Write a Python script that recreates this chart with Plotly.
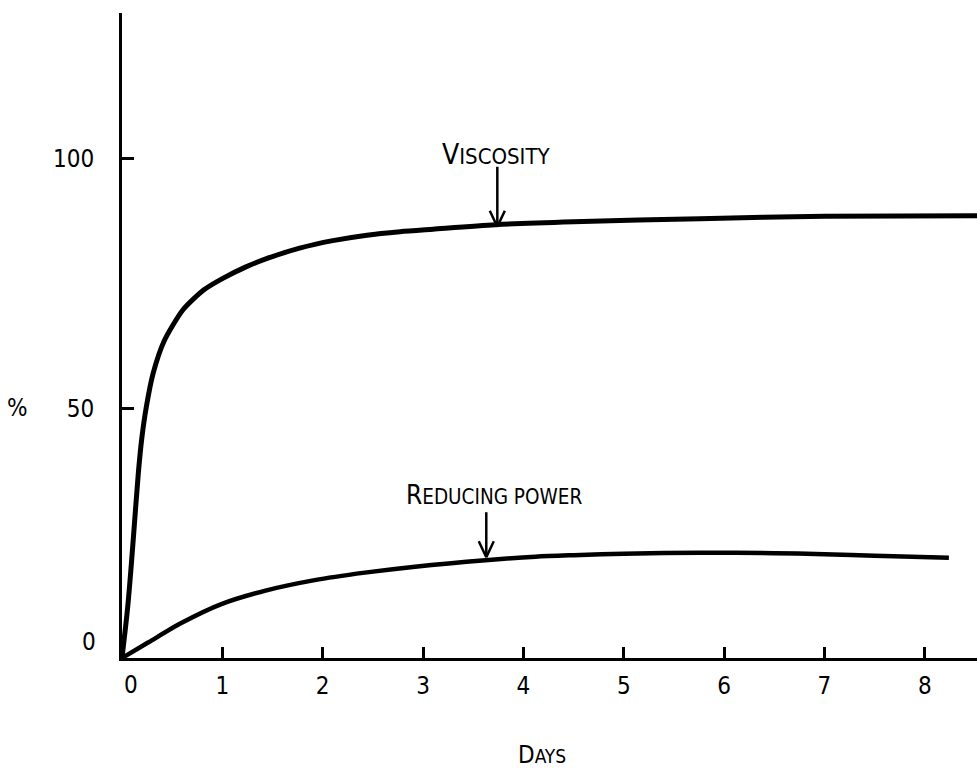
import plotly.graph_objects as go

# ---- data ----
visc_days = [0.0, 0.04, 0.063, 0.09, 0.113, 0.163, 0.196, 0.24, 0.31, 0.42, 0.61,
             0.82, 1.0, 1.23, 1.44, 1.77, 2.1, 2.44, 2.77, 3.1, 3.72, 4.5, 5.76, 7.0, 8.52]
visc_pct = [0.0, 7.0, 11.5, 18.0, 24.0, 37.1, 43.8, 50.0, 57.0, 63.5, 69.8,
            73.8, 76.0, 78.3, 80.0, 82.1, 83.6, 84.7, 85.4, 85.9, 86.8, 87.4, 88.0, 88.5, 88.6]

red_days = [0.0, 0.26, 0.6, 0.99, 1.43, 1.92, 2.42, 2.92, 3.62, 4.12, 4.5, 5.0,
            5.76, 6.5, 7.0, 7.5, 8.24]
red_pct = [0.0, 3.1, 7.1, 10.8, 13.5, 15.6, 17.1, 18.3, 19.6, 20.3, 20.6, 20.9,
           21.1, 21.0, 20.8, 20.5, 20.1]

x_ticks = [1, 2, 3, 4, 5, 6, 7, 8]
x_zero_label = "0"
y_ticks = [50, 100]
y_zero_label = "0"

FONT = "Liberation Sans Narrow, DejaVu Sans Condensed, DejaVu Sans"
TICK_SIZE = 24

W, H = 977, 768
L_, R_, T_, B_ = 122, 0, 13, 110
pw, ph = W - L_ - R_, H - T_ - B_


def px_to_paper(px, py):
    return (px - L_) / pw, (H - B_ - py) / ph


def small_caps(first, rest, big, small):
    return (f"<span style='font-size:{big}px'>{first}</span>"
            f"<span style='font-size:{small}px'>{rest}</span>")


fig = go.Figure()
fig.add_trace(go.Scatter(x=visc_days, y=visc_pct, mode="lines",
                         line=dict(color="black", width=5, shape="spline", smoothing=0.7),
                         hoverinfo="skip", showlegend=False))
fig.add_trace(go.Scatter(x=red_days, y=red_pct, mode="lines",
                         line=dict(color="black", width=4.5, shape="spline", smoothing=0.8),
                         hoverinfo="skip", showlegend=False))

ann = []
shapes = []
labels = [
    dict(text=small_caps("V", "ISCOSITY", 28, 22), tx=3.73, ty=100.8, ax=3.74, top=98.4, tip=86.4),
    dict(text=small_caps("R", "EDUCING POWER", 26, 20.5), tx=3.71, ty=32.6, ax=3.63, top=29.2, tip=20.2),
]
for Lb in labels:
    ann.append(dict(x=Lb["tx"], y=Lb["ty"], xref="x", yref="y", text=Lb["text"],
                    showarrow=False, xanchor="center", yanchor="middle",
                    font=dict(family=FONT, size=20, color="black")))
    shapes.append(dict(type="line", xref="x", yref="y", x0=Lb["ax"], x1=Lb["ax"],
                       y0=Lb["top"], y1=Lb["tip"], line=dict(color="black", width=2.5)))
    for s in (-1, 1):
        shapes.append(dict(type="line", xref="x", yref="y", x0=Lb["ax"], y0=Lb["tip"],
                           x1=Lb["ax"] + s * 0.075, y1=Lb["tip"] + 3.2,
                           line=dict(color="black", width=2.5)))

# y "0" label (sits a little above the axis in the reference)
ann.append(dict(x=0, y=3.2, xref="paper", yref="y", text=y_zero_label, showarrow=False,
                xanchor="right", yanchor="middle", xshift=-24,
                font=dict(family=FONT, size=TICK_SIZE, color="black")))
# x "0" label (a little right of the axis corner)
ann.append(dict(x=0.09, y=0, xref="x", yref="paper", text=x_zero_label, showarrow=False,
                xanchor="center", yanchor="top", yshift=-11,
                font=dict(family=FONT, size=TICK_SIZE, color="black")))
# axis titles
pxp, pyp = px_to_paper(17, 408)
ann.append(dict(x=pxp, y=pyp, xref="paper", yref="paper", text="%", showarrow=False,
                xanchor="center", yanchor="middle",
                font=dict(family=FONT, size=24, color="black")))
dxp, dyp = px_to_paper(542, 755)
ann.append(dict(x=dxp, y=dyp, xref="paper", yref="paper",
                text=small_caps("D", "AYS", 24, 19), showarrow=False,
                xanchor="center", yanchor="middle",
                font=dict(family=FONT, size=19, color="black")))

fig.update_layout(
    width=W, height=H,
    margin=dict(l=L_, r=R_, t=T_, b=B_, pad=0),
    paper_bgcolor="white", plot_bgcolor="white",
    annotations=ann, shapes=shapes,
    xaxis=dict(range=[0, 8.52], showgrid=False, zeroline=False, showline=True,
               linecolor="black", linewidth=3, ticks="inside", ticklen=11, tickwidth=3,
               tickcolor="black", tickvals=x_ticks, ticktext=[str(v) for v in x_ticks],
               tickfont=dict(family=FONT, size=TICK_SIZE, color="black"), ticklabelstandoff=4),
    yaxis=dict(range=[0, 129.2], showgrid=False, zeroline=False, showline=True,
               linecolor="black", linewidth=3, ticks="inside", ticklen=12, tickwidth=3,
               tickcolor="black", tickvals=y_ticks, ticktext=[str(v) for v in y_ticks],
               tickfont=dict(family=FONT, size=TICK_SIZE, color="black"), ticklabelstandoff=20),
)
fig.write_html("out.html", config={"displayModeBar": False},
               post_script="document.body.style.margin='0px';")
